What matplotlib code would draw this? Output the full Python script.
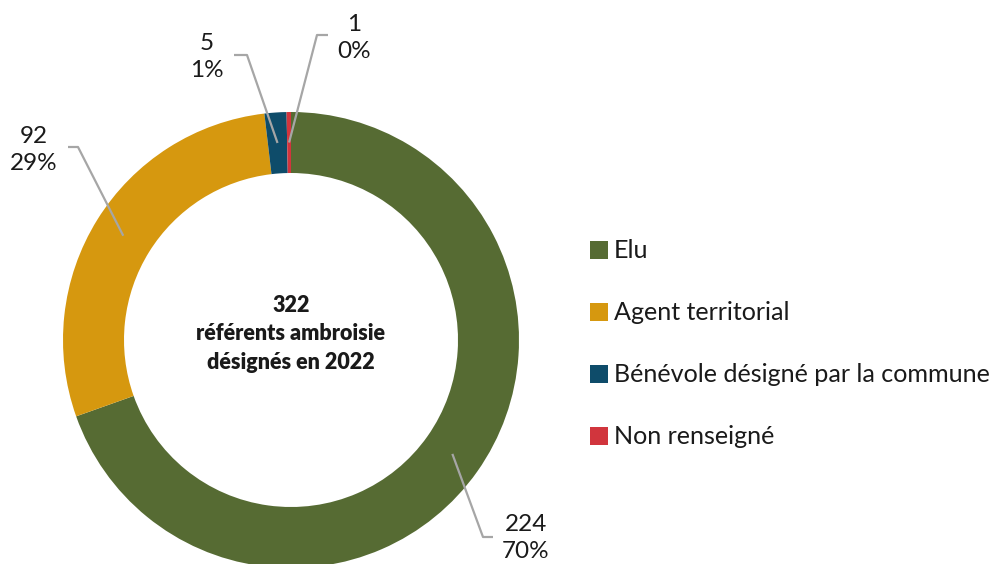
import matplotlib
matplotlib.use("Agg")
import matplotlib.pyplot as plt
from matplotlib.patches import Rectangle
import numpy as np

categories = ["Elu", "Agent territorial", "Bénévole désigné par la commune", "Non renseigné"]
values = [224, 92, 5, 1]
pct_labels = ["70%", "29%", "1%", "0%"]
colors = ["#566B33", "#D6980F", "#0E4C6A", "#D1353D"]
center_lines = ["322", "référents ambroisie", "désignés en 2022"]

W, H = 999, 564
plt.rcParams['font.family'] = ['Lato', 'DejaVu Sans']

fig = plt.figure(figsize=(W / 100, H / 100), dpi=100)
ax = fig.add_axes([0, 0, 1, 1])

def Y(y):
    return H - y

cx, cy, R = 291, Y(340), 228
ring = 61

wedges, _ = ax.pie(values, colors=colors, startangle=90, counterclock=False,
                   center=(cx, cy), radius=R, frame=False,
                   wedgeprops=dict(width=ring, linewidth=0))

# label layout (elbow and text positions in pixel coords)
elbows = [((483, 537), (493, 537)), ((78, 147), (68, 147)),
          ((247, 55), (234, 55)), ((317, 35), (328, 35))]
text_pos = [(526, 538), (34, 150), (207, 57), (354, 38)]

for w, v, p, (e1, e2), (tx, ty) in zip(wedges, values, pct_labels, elbows, text_pos):
    ang = np.deg2rad((w.theta1 + w.theta2) / 2)
    rm = R - ring / 2
    sx, sy = cx + rm * np.cos(ang), cy + rm * np.sin(ang)
    ax.plot([sx, e1[0], e2[0]], [sy, Y(e1[1]), Y(e2[1])], color="#A6A6A6", lw=1.6,
            solid_capstyle='butt', zorder=3)
    ax.text(tx, Y(ty), f"{v}\n{p}", ha='center', va='center', fontsize=17.5,
            linespacing=1.33, color="#1a1a1a")

ax.text(cx, Y(334), "\n".join(center_lines), ha='center', va='center',
        fontsize=15.5, fontweight='heavy', linespacing=1.45, color="#1a1a1a")

leg_y = [250, 312, 374, 436]
for cat, col, ly in zip(categories, colors, leg_y):
    ax.add_patch(Rectangle((590, Y(ly) - 9), 18, 18, facecolor=col, edgecolor='none'))
    ax.text(614, Y(ly), cat, ha='left', va='center', fontsize=18.1, color="#1a1a1a")

ax.set_xlim(0, W)
ax.set_ylim(0, H)
ax.set_aspect('auto')
ax.axis('off')

fig.savefig("out.png", dpi=100)
